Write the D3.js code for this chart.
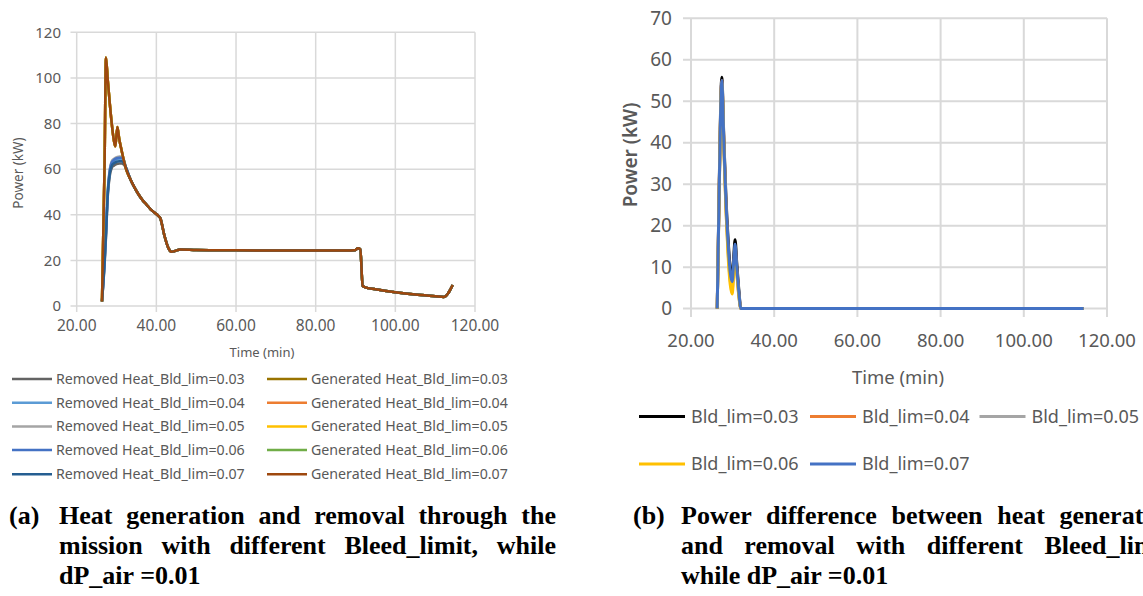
<!DOCTYPE html>
<html>
<head>
<meta charset="utf-8">
<script src="https://cdn.jsdelivr.net/npm/d3@7"></script>
<style>
  body { margin:0; width:1143px; height:596px; overflow:hidden; background:#fff; position:relative; }
  svg { position:absolute; left:0; top:0; }
  .cap { position:absolute; font-family:"Liberation Serif","Times New Roman",serif; font-weight:bold; font-size:26px; line-height:30px; color:#000; }
  .cap .ln { text-align:justify; text-align-last:justify; white-space:normal; }
  .cap .last { text-align:left; text-align-last:left; }
</style>
</head>
<body>
<div class="cap" style="left:9px;top:501px;">(a)</div>
<div class="cap" style="left:59px;top:501px;width:497px;">
  <div class="ln">Heat generation and removal through the</div>
  <div class="ln">mission with different Bleed_limit, while</div>
  <div class="ln last">dP_air =0.01</div>
</div>
<div class="cap" style="left:633px;top:501px;">(b)</div>
<div class="cap" style="left:681px;top:501px;width:497px;">
  <div class="ln">Power difference between heat generation</div>
  <div class="ln">and removal with different Bleed_limit,</div>
  <div class="ln last">while dP_air =0.01</div>
</div>
<script>
// ---- chart (a): heat generated / removed, time in min, power in kW
var timeA = [26.35, 27.0, 27.35, 27.8, 28.3, 28.8, 29.3, 29.7, 30.2, 30.7, 31.3, 31.8, 32.4, 33.5, 34.5, 35.5, 36.5, 37.5, 38.5, 39.5, 40.5, 41.0, 42.0, 43.0, 43.8, 44.5, 46, 50, 60, 70, 80, 88, 89.8, 90.6, 91.2, 91.8, 92.3, 95, 100, 105, 110, 112.2, 114.4];

var removed03 = [2, 18, 30, 48, 57, 60.5, 61.5, 62, 62.3, 62.5, 62.5, 62, 60.5, 55.5, 52, 49, 46.5, 44.5, 42.5, 41, 39.5, 38.5, 31, 25.5, 23.8, 24, 24.8, 24.6, 24.4, 24.3, 24.3, 24.3, 24.4, 25.3, 24.8, 8.8, 8.3, 7.3, 6, 5, 4.3, 4.0, 9.2];
var removed04 = [2, 20, 32, 50, 59, 62.5, 63.5, 64, 64.3, 64.5, 64.4, 63.5, 60.5, 55.5, 52, 49, 46.5, 44.5, 42.5, 41, 39.5, 38.5, 31, 25.5, 23.8, 24, 24.8, 24.6, 24.4, 24.3, 24.3, 24.3, 24.4, 25.3, 24.8, 8.8, 8.3, 7.3, 6, 5, 4.3, 4.0, 9.2];
var removed05 = [2, 21, 33, 51, 60, 63.5, 64.5, 65, 65.4, 65.6, 65.5, 64.3, 60.5, 55.5, 52, 49, 46.5, 44.5, 42.5, 41, 39.5, 38.5, 31, 25.5, 23.8, 24, 24.8, 24.6, 24.4, 24.3, 24.3, 24.3, 24.4, 25.3, 24.8, 8.8, 8.3, 7.3, 6, 5, 4.3, 4.0, 9.2];
var removed06 = [2, 20, 33, 50, 59.5, 63, 64, 64.5, 64.8, 65, 65, 64, 60.5, 55.5, 52, 49, 46.5, 44.5, 42.5, 41, 39.5, 38.5, 31, 25.5, 23.8, 24, 24.8, 24.6, 24.4, 24.3, 24.3, 24.3, 24.4, 25.3, 24.8, 8.8, 8.3, 7.3, 6, 5, 4.3, 4.0, 9.2];
var removed07 = [2, 19, 31, 49, 58, 61.5, 62.5, 63, 63.3, 63.5, 63.5, 62.8, 60.5, 55.5, 52, 49, 46.5, 44.5, 42.5, 41, 39.5, 38.5, 31, 25.5, 23.8, 24, 24.8, 24.6, 24.4, 24.3, 24.3, 24.3, 24.4, 25.3, 24.8, 8.8, 8.3, 7.3, 6, 5, 4.3, 4.0, 9.2];

var generated03 = [2, 62, 109, 99, 89, 80, 73, 70, 78.5, 73, 68, 64, 60, 55.5, 52, 49, 46.5, 44.5, 42.5, 41, 39.5, 38.5, 31, 25.5, 23.8, 24, 24.8, 24.6, 24.4, 24.3, 24.3, 24.3, 24.4, 25.3, 24.8, 8.8, 8.3, 7.3, 6, 5, 4.3, 4.0, 9.2];
var generated04 = [2, 62, 109, 99, 89, 80, 73, 70, 78.5, 73, 68, 64, 60, 55.5, 52, 49, 46.5, 44.5, 42.5, 41, 39.5, 38.5, 31, 25.5, 23.8, 24, 24.8, 24.6, 24.4, 24.3, 24.3, 24.3, 24.4, 25.3, 24.8, 8.8, 8.3, 7.3, 6, 5, 4.3, 4.0, 9.2];
var generated05 = [2, 62, 109, 99, 89, 80, 73, 70, 78.5, 73, 68, 64, 60, 55.5, 52, 49, 46.5, 44.5, 42.5, 41, 39.5, 38.5, 31, 25.5, 23.8, 24, 24.8, 24.6, 24.4, 24.3, 24.3, 24.3, 24.4, 25.3, 24.8, 8.8, 8.3, 7.3, 6, 5, 4.3, 4.0, 9.2];
var generated06 = [2, 62, 109, 99, 89, 80, 73, 70, 78.5, 73, 68, 64, 60, 55.5, 52, 49, 46.5, 44.5, 42.5, 41, 39.5, 38.5, 31, 25.5, 23.8, 24, 24.8, 24.6, 24.4, 24.3, 24.3, 24.3, 24.4, 25.3, 24.8, 8.8, 8.3, 7.3, 6, 5, 4.3, 4.0, 9.2];
var generated07 = [2, 62, 109, 99, 89, 80, 73, 70, 78.5, 73, 68, 64, 60, 55.5, 52, 49, 46.5, 44.5, 42.5, 41, 39.5, 38.5, 31, 25.5, 23.8, 24, 24.8, 24.6, 24.4, 24.3, 24.3, 24.3, 24.4, 25.3, 24.8, 8.8, 8.3, 7.3, 6, 5, 4.3, 4.0, 9.2];

var xTicksA = [20, 40, 60, 80, 100, 120];
var yTicksA = [0, 20, 40, 60, 80, 100, 120];

// ---- chart (b): generated minus removed
var timeB = [26.3, 26.8, 27.4, 27.9, 28.4, 28.9, 29.4, 29.9, 30.3, 30.6, 31.0, 31.5, 32.0, 40, 60, 80, 100, 114.4];
var diff03 = [0, 31, 55.8, 41, 27, 17, 10, 7, 13, 16.6, 11, 4.5, 0, 0, 0, 0, 0, 0];
var diff04 = [0, 30, 55, 40, 25, 15, 8, 5.5, 11, 14.5, 9.5, 3.5, 0, 0, 0, 0, 0, 0];
var diff05 = [0, 29, 54.5, 39, 24, 14, 7, 4.5, 10, 13.5, 9, 3, 0, 0, 0, 0, 0, 0];
var diff06 = [0, 29, 54.5, 39, 24, 13, 6, 3.5, 9, 12.5, 8.5, 3, 0, 0, 0, 0, 0, 0];
var diff07 = [0, 30, 55, 40, 26, 16, 9, 6.5, 12, 15.5, 10, 4, 0, 0, 0, 0, 0, 0];

var xTicksB = [20, 40, 60, 80, 100, 120];
var yTicksB = [0, 10, 20, 30, 40, 50, 60, 70];

// series lists (excel draw order)
var seriesA = [
  {name:"Removed Heat_Bld_lim=0.03", color:"#636363", v:removed03},
  {name:"Generated Heat_Bld_lim=0.03", color:"#997300", v:generated03},
  {name:"Removed Heat_Bld_lim=0.04", color:"#5B9BD5", v:removed04},
  {name:"Generated Heat_Bld_lim=0.04", color:"#ED7D31", v:generated04},
  {name:"Removed Heat_Bld_lim=0.05", color:"#A5A5A5", v:removed05},
  {name:"Generated Heat_Bld_lim=0.05", color:"#FFC000", v:generated05},
  {name:"Removed Heat_Bld_lim=0.06", color:"#4472C4", v:removed06},
  {name:"Generated Heat_Bld_lim=0.06", color:"#70AD47", v:generated06},
  {name:"Removed Heat_Bld_lim=0.07", color:"#255E91", v:removed07},
  {name:"Generated Heat_Bld_lim=0.07", color:"#9E480E", v:generated07}
];
var seriesB = [
  {name:"Bld_lim=0.03", color:"#000000", v:diff03},
  {name:"Bld_lim=0.04", color:"#ED7D31", v:diff04},
  {name:"Bld_lim=0.05", color:"#A5A5A5", v:diff05},
  {name:"Bld_lim=0.06", color:"#FFC000", v:diff06},
  {name:"Bld_lim=0.07", color:"#4472C4", v:diff07}
];

var font = "'Noto Sans', 'Open Sans', sans-serif",
    txt = "#595959",
    grid = "#D9D9D9";

var svg = d3.select("body").append("svg")
    .attr("width", 1143)
    .attr("height", 596);

// ================= chart (a)
var xA = d3.scaleLinear().domain([20, 120]).range([76.7, 475]),
    yA = d3.scaleLinear().domain([0, 120]).range([306, 32.3]);

var gA = svg.append("g");

// gridlines + ticks
gA.selectAll(".hgA").data(yTicksA).enter().append("line")
  .attr("x1", 70.5).attr("x2", 475)
  .attr("y1", yA).attr("y2", yA)
  .attr("stroke", grid).attr("stroke-width", 1.5);
gA.selectAll(".vgA").data(xTicksA).enter().append("line")
  .attr("x1", xA).attr("x2", xA)
  .attr("y1", 32.3).attr("y2", 312)
  .attr("stroke", grid).attr("stroke-width", 1.5);

gA.selectAll(".ytA").data(yTicksA).enter().append("text")
  .attr("x", 61).attr("y", yA).attr("dy", "0.35em")
  .attr("text-anchor", "end")
  .style("font-family", font).style("font-size", "15px").style("fill", txt)
  .text(function(d){ return d; });
gA.selectAll(".xtA").data(xTicksA).enter().append("text")
  .attr("x", xA).attr("y", 326).attr("dy", "0.35em")
  .attr("text-anchor", "middle")
  .style("font-family", font).style("font-size", "15.5px").style("fill", txt)
  .text(function(d){ return d.toFixed(2); });

gA.append("text")
  .attr("transform", "translate(18,173) rotate(-90)")
  .attr("text-anchor", "middle").attr("dy", "0.35em")
  .style("font-family", font).style("font-size", "13.5px").style("fill", txt)
  .text("Power (kW)");
gA.append("text")
  .attr("x", 262).attr("y", 352).attr("dy", "0.35em")
  .attr("text-anchor", "middle")
  .style("font-family", font).style("font-size", "13px").style("fill", txt)
  .text("Time (min)");

var lineA = d3.line()
  .x(function(d, i){ return xA(timeA[i]); })
  .y(function(d){ return yA(d); })
  .curve(d3.curveMonotoneX);

gA.selectAll(".serA").data(seriesA).enter().append("path")
  .attr("d", function(s){ return lineA(s.v); })
  .attr("fill", "none")
  .attr("stroke", function(s){ return s.color; })
  .attr("stroke-width", 2.5)
  .attr("stroke-linejoin", "round");

// legend (a): 2 columns, row-wise
var legA = gA.selectAll(".legA").data(seriesA).enter().append("g")
  .attr("transform", function(s, i){
    var col = i % 2, row = Math.floor(i / 2);
    var ys = [379, 402.7, 426.5, 450, 474.3];
    return "translate(" + (col ? 267 : 12) + "," + ys[row] + ")";
  });
legA.append("line")
  .attr("x1", 0).attr("x2", 40)
  .attr("stroke", function(s){ return s.color; })
  .attr("stroke-width", 2.5);
legA.append("text")
  .attr("x", 44).attr("dy", "0.35em")
  .style("font-family", font).style("font-size", "14.2px").style("fill", txt)
  .text(function(s){ return s.name; });

// ================= chart (b)
var xB = d3.scaleLinear().domain([20, 120]).range([691, 1107]),
    yB = d3.scaleLinear().domain([0, 70]).range([308.6, 18.3]);

var gB = svg.append("g");

gB.selectAll(".hgB").data(yTicksB).enter().append("line")
  .attr("x1", 683).attr("x2", 1107)
  .attr("y1", yB).attr("y2", yB)
  .attr("stroke", grid).attr("stroke-width", 2);
gB.selectAll(".vgB").data(xTicksB).enter().append("line")
  .attr("x1", xB).attr("x2", xB)
  .attr("y1", 18.3).attr("y2", 317)
  .attr("stroke", grid).attr("stroke-width", 2);

gB.selectAll(".ytB").data(yTicksB).enter().append("text")
  .attr("x", 672).attr("y", yB).attr("dy", "0.35em")
  .attr("text-anchor", "end")
  .style("font-family", font).style("font-size", "19px").style("fill", txt)
  .text(function(d){ return d; });
gB.selectAll(".xtB").data(xTicksB).enter().append("text")
  .attr("x", xB).attr("y", 341).attr("dy", "0.35em")
  .attr("text-anchor", "middle")
  .style("font-family", font).style("font-size", "18.5px").style("fill", txt)
  .text(function(d){ return d.toFixed(2); });

gB.append("text")
  .attr("transform", "translate(630,155) rotate(-90)")
  .attr("text-anchor", "middle").attr("dy", "0.35em")
  .style("font-family", font).style("font-size", "19px").style("font-weight", "600").style("fill", txt)
  .text("Power (kW)");
gB.append("text")
  .attr("x", 898).attr("y", 378).attr("dy", "0.35em")
  .attr("text-anchor", "middle")
  .style("font-family", font).style("font-size", "18.5px").style("fill", txt)
  .text("Time (min)");

var lineB = d3.line()
  .x(function(d, i){ return xB(timeB[i]); })
  .y(function(d){ return yB(d); })
  .curve(d3.curveMonotoneX);

gB.selectAll(".serB").data(seriesB).enter().append("path")
  .attr("d", function(s){ return lineB(s.v); })
  .attr("fill", "none")
  .attr("stroke", function(s){ return s.color; })
  .attr("stroke-width", 3)
  .attr("stroke-linejoin", "round");

// legend (b): 3 per row
var legBx = [639, 810, 979.5];
var legB = gB.selectAll(".legB").data(seriesB).enter().append("g")
  .attr("transform", function(s, i){
    return "translate(" + legBx[i % 3] + "," + (i < 3 ? 416.4 : 464) + ")";
  });
legB.append("line")
  .attr("x1", 0).attr("x2", 46)
  .attr("stroke", function(s){ return s.color; })
  .attr("stroke-width", 3);
legB.append("text")
  .attr("x", 52).attr("dy", "0.35em")
  .style("font-family", font).style("font-size", "18px").style("fill", txt)
  .text(function(s){ return s.name; });
</script>
</body>
</html>
